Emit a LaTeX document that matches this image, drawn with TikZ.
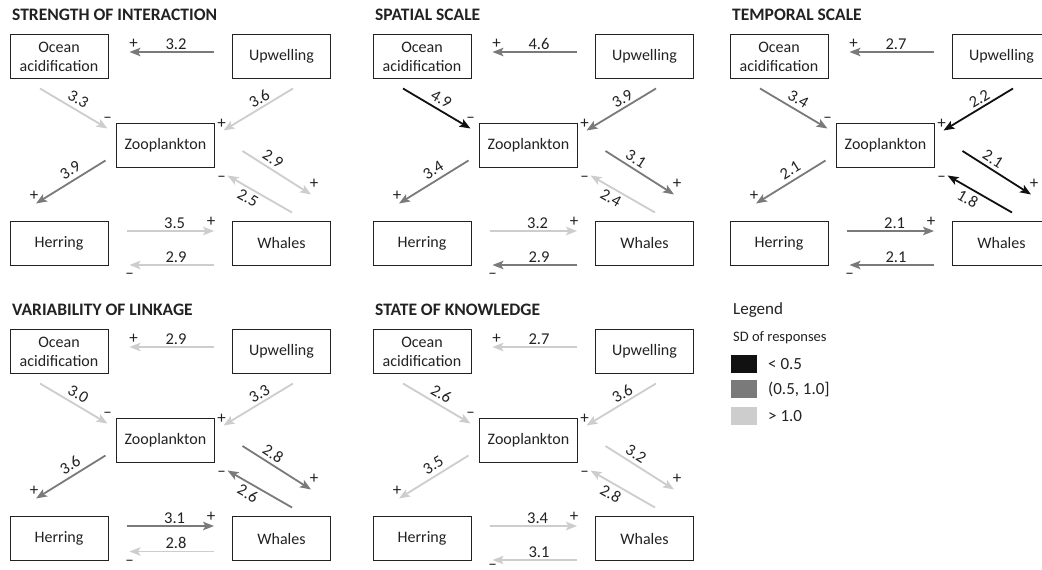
\documentclass[tikz,border=0pt]{standalone}
\usepackage{fontspec}
\setmainfont{Carlito}
\usetikzlibrary{arrows.meta}
\definecolor{sdlocol}{HTML}{111111}
\definecolor{sdmidcol}{HTML}{7A7A7A}
\definecolor{sdhicol}{HTML}{CDCDCD}
\definecolor{txt}{HTML}{222222}
\tikzset{
 box/.style={draw=txt, line width=1pt, minimum width=98pt, minimum height=44pt, inner sep=1pt, align=center, font=\fontsize{16}{19}\selectfont, text=txt},
 ttl/.style={anchor=west, inner sep=0pt, font=\bfseries\fontsize{17.5}{20}\selectfont, text=txt},
 lnk/.style={line width=1.8pt, -{Stealth[length=11pt,width=8.5pt,inset=2.5pt]}},
 sdlo/.style={draw=sdlocol}, sdmid/.style={draw=sdmidcol}, sdhi/.style={draw=sdhicol},
 val/.style={font=\fontsize{16.5}{19}\selectfont, text=txt, inner sep=1.5pt},
 sgn/.style={font=\fontsize{17}{20}\selectfont, text=txt, inner sep=0pt},
 legtxt/.style={anchor=west, inner sep=0pt, font=\fontsize{17}{20}\selectfont, text=txt},
}
\def\botdy{21.5}
\def\sgndy{11}
\newcommand\panelboxes[4]{%
 \begin{scope}[shift={(#2,#3)}]
  \node[ttl] (#1-t) at (12,15) {#4};
  \node[box] (#1-oa) at (59,56.5) {Ocean\\acidification};
  \node[box] (#1-up) at (281.5,56.5) {Upwelling};
  \node[box] (#1-zo) at (165.5,145.5) {Zooplankton};
  \node[box] (#1-he) at (59,243.5) {Herring};
  \node[box] (#1-wh) at (281.5,243.5) {Whales};
 \end{scope}}
\newcommand\linksA[9]{%
 \draw[lnk,#2] ([shift={(-18,-4.5)}]#1-up.west) -- node[val,above,pos=0.45]{#3}
   ([shift={(21,-4.5)}]#1-oa.east) node[sgn,shift={(4,-8)}]{+};
 \draw[lnk,#4] ([shift={(-19,9.5)}]#1-oa.south) -- node[val,above=2.5pt,sloped,pos=0.49]{#5}
   ([shift={(-8.5,5.5)}]#1-zo.north west) node[sgn,shift={(0,-9)}]{--};
 \draw[lnk,#6] ([shift={(11.5,9.5)}]#1-up.south) -- node[val,above=1pt,sloped,pos=0.42]{#7}
   ([shift={(8.5,7.5)}]#1-zo.north east) node[sgn,shift={(-2,-7)}]{+};
 \draw[lnk,#8] ([shift={(-10.5,-7.5)}]#1-zo.south west) -- node[val,above=2.5pt,sloped,pos=0.43]{#9}
   ([shift={(-23,-17.5)}]#1-he.north) node[sgn,shift={(-2,-8)}]{+};
}
\newcommand\linksB[9]{%
 \draw[lnk,#2] ([shift={(27.5,5.5)}]#1-zo.east) -- node[val,above=1.7pt,sloped,pos=0.37]{#3}
   ([shift={(29.5,-26.5)}]#1-wh.north) node[sgn,shift={(3,-11)}]{+};
 \draw[lnk,#4] ([shift={(10.5,-8.5)}]#1-wh.north) -- node[val,below=1.7pt,sloped,pos=0.61]{#5}
   ([shift={(12.5,7.5)}]#1-zo.south east) node[sgn,shift={(-6,3)}]{--};
 \draw[lnk,#6] ([shift={(18,-12.5)}]#1-he.east) -- node[val,above,pos=0.55]{#7}
   ([shift={(-18,-12.5)}]#1-wh.west) node[sgn,shift={(-3,-9)}]{+};
 \draw[lnk,#8] ([shift={(-18,\botdy)}]#1-wh.west) -- node[val,above,pos=0.45]{#9}
   ([shift={(21,\botdy)}]#1-he.east) node[sgn,shift={(0,\sgndy)}]{--};
}
\begin{document}
\begin{tikzpicture}[x=1pt,y=-1pt]
\useasboundingbox (0,0) rectangle (1042,570);
\clip (0,0) rectangle (1042,570);
\fill[white] (0,0) rectangle (1042,570);

\panelboxes{p1}{0}{0}{STRENGTH OF INTERACTION}
\linksA{p1}{sdmid}{3.2}{sdhi}{3.3}{sdhi}{3.6}{sdmid}{3.9}
\linksB{p1}{sdhi}{2.9}{sdhi}{2.5}{sdhi}{3.5}{sdhi}{2.9}

\panelboxes{p2}{363}{0}{SPATIAL SCALE}
\linksA{p2}{sdmid}{4.6}{sdlo}{4.9}{sdmid}{3.9}{sdmid}{3.4}
\linksB{p2}{sdmid}{3.1}{sdhi}{2.4}{sdhi}{3.2}{sdmid}{2.9}

\panelboxes{p3}{720}{0}{TEMPORAL SCALE}
\linksA{p3}{sdmid}{2.7}{sdmid}{3.4}{sdlo}{2.2}{sdmid}{2.1}
\linksB{p3}{sdlo}{2.1}{sdlo}{1.8}{sdmid}{2.1}{sdmid}{2.1}

\def\botdy{13}
\panelboxes{p4}{0}{295}{VARIABILITY OF LINKAGE}
\linksA{p4}{sdhi}{2.9}{sdhi}{3.0}{sdhi}{3.3}{sdmid}{3.6}
\linksB{p4}{sdmid}{2.8}{sdmid}{2.6}{sdmid}{3.1}{sdhi}{2.8}

\def\botdy{21.5}
\def\sgndy{6.5}
\panelboxes{p5}{363}{295}{STATE OF KNOWLEDGE}
\linksA{p5}{sdhi}{2.7}{sdhi}{2.6}{sdhi}{3.6}{sdhi}{3.5}
\linksB{p5}{sdhi}{3.2}{sdhi}{2.8}{sdhi}{3.4}{sdhi}{3.1}

% legend
\node[legtxt] (lg) at (733,310) {Legend};
\node[anchor=west, inner sep=0pt, font=\fontsize{14.5}{17}\selectfont, text=txt] (lgsd) at (733,338) {SD of responses};
\node[draw=none, fill=sdlocol, minimum width=26pt, minimum height=18pt, inner sep=0pt] (k1) at (744,364) {};
\node[draw=none, fill=sdmidcol, minimum width=26pt, minimum height=18pt, inner sep=0pt] (k2) at (744,389) {};
\node[draw=none, fill=sdhicol, minimum width=26pt, minimum height=18pt, inner sep=0pt] (k3) at (744,416) {};
\node[legtxt] (k1t) at (768,364) {< 0.5};
\node[legtxt] (k2t) at (768,389) {(0.5, 1.0]};
\node[legtxt] (k3t) at (768,416) {> 1.0};
\end{tikzpicture}
\end{document}
